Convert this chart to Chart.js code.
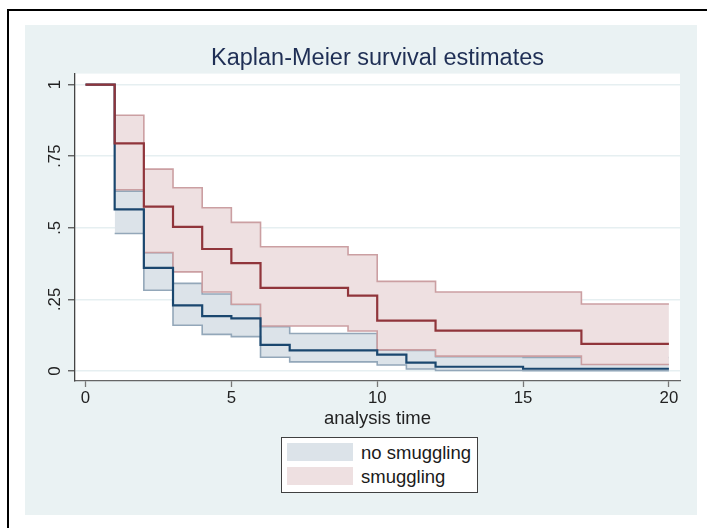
<!DOCTYPE html>
<html>
<head>
<meta charset="utf-8">
<script src="https://cdn.jsdelivr.net/npm/chart.js@4"></script>
<style>
html,body{margin:0;padding:0;background:#fff;width:707px;height:528px;overflow:hidden;font-family:"Liberation Sans",Arial,sans-serif;}
#frame{position:absolute;left:7px;top:9px;width:720px;height:540px;border-top:2px solid #000;border-left:2px solid #000;}
#panel{position:absolute;left:25px;top:25px;width:672px;height:490px;background:#EAF2F3;}
#c{position:absolute;left:0;top:0;}
#legend{position:absolute;left:281px;top:437px;width:195px;height:54px;border:1px solid #404040;background:#fff;}
.sw{position:absolute;left:5px;width:66px;height:18px;}
.lt{position:absolute;left:79px;font-size:18.5px;line-height:20px;color:#1a1a1a;white-space:nowrap;}
</style>
</head>
<body>
<div id="frame"></div>
<div id="panel"></div>
<canvas id="c" width="707" height="528"></canvas>
<div id="legend">
  <div class="sw" id="sw0" style="top:5px"></div><div class="lt" id="lt0" style="top:5px"></div>
  <div class="sw" id="sw1" style="top:29px"></div><div class="lt" id="lt1" style="top:29px"></div>
</div>
<script>
// ---- data ----
const smugTimes   = [0, 1, 2, 3, 4, 5, 6, 9, 10, 12, 17, 20];
const smugSurv    = [1, 0.795, 0.574, 0.503, 0.426, 0.377, 0.290, 0.263, 0.176, 0.141, 0.095, 0.095];
const smugCITimes = [1, 2, 3, 4, 5, 6, 9, 10, 12, 17, 20];
const smugUpper   = [0.893, 0.705, 0.640, 0.570, 0.519, 0.434, 0.406, 0.313, 0.276, 0.234, 0.234];
const smugLower   = [0.633, 0.414, 0.346, 0.276, 0.233, 0.157, 0.140, 0.074, 0.052, 0.023, 0.023];

const noSmugTimes   = [0, 1, 2, 3, 4, 5, 6, 7, 10, 11, 12, 15, 20];
const noSmugSurv    = [1, 0.5645, 0.360, 0.229, 0.192, 0.184, 0.091, 0.072, 0.057, 0.029, 0.015, 0.008, 0.008];
const noSmugCITimes = [1, 2, 3, 4, 5, 6, 7, 10, 11, 12, 15, 20];
const noSmugUpper   = [0.628, 0.413, 0.306, 0.269, 0.232, 0.155, 0.131, 0.073, 0.072, 0.050, 0.047, 0.047];
const noSmugLower   = [0.480, 0.282, 0.160, 0.128, 0.120, 0.048, 0.032, 0.021, 0.007, 0.002, 0.001, 0.001];

const xTicks      = [0, 5, 10, 15, 20];
const yTicks      = [0, 0.25, 0.5, 0.75, 1];
const yTickLabels = ['0', '.25', '.5', '.75', '1'];
const seriesNames = ['no smuggling', 'smuggling'];
const titleText   = 'Kaplan-Meier survival estimates';
const xTitleText  = 'analysis time';

// ---- styles ----
const FONT = '"Liberation Sans", Arial, sans-serif';
const BLUE_LINE = '#1A476F', RED_LINE = '#90353B';
const BLUE_FILL = '#DCE3E9', RED_FILL = '#EEE0E1';
const BLUE_EDGE = '#93A7B9', RED_EDGE = '#CB9FA2';

const pts = (xs, ys) => xs.map((x, i) => ({x: x, y: ys[i]}));

const lineDs = (label, xs, ys, color, width, extra) => Object.assign({
  label: label, data: pts(xs, ys), borderColor: color, borderWidth: width,
  backgroundColor: color, pointRadius: 0, stepped: 'before', fill: false, tension: 0
}, extra || {});

const datasets = [
  lineDs(seriesNames[1], smugTimes, smugSurv, RED_LINE, 2.2),
  lineDs(seriesNames[0], noSmugTimes, noSmugSurv, BLUE_LINE, 2.2),
  lineDs(seriesNames[1] + ' upper', smugCITimes, smugUpper, RED_EDGE, 1.6),
  lineDs(seriesNames[1] + ' lower', smugCITimes, smugLower, RED_EDGE, 1.6, {fill: '-1', backgroundColor: RED_FILL}),
  lineDs(seriesNames[0] + ' upper', noSmugCITimes, noSmugUpper, BLUE_EDGE, 1.6),
  lineDs(seriesNames[0] + ' lower', noSmugCITimes, noSmugLower, BLUE_EDGE, 1.6, {fill: '-1', backgroundColor: BLUE_FILL})
];

const plotBg = {
  id: 'plotBg',
  beforeDraw(chart) {
    const a = chart.chartArea, c = chart.ctx;
    c.save(); c.fillStyle = '#ffffff';
    c.fillRect(a.left, a.top, a.right - a.left, a.bottom - a.top);
    c.restore();
  }
};

new Chart(document.getElementById('c').getContext('2d'), {
  type: 'line',
  data: {datasets: datasets},
  options: {
    responsive: false, animation: false, devicePixelRatio: 1,
    layout: {padding: {left: 0, right: 27, top: 0, bottom: 87}},
    plugins: {
      legend: {display: false},
      tooltip: {enabled: false},
      filler: {propagate: false},
      title: {display: true, fullSize: false, text: titleText, color: '#1F2F55',
        font: {family: FONT, size: 23.5, weight: 'normal'},
        padding: {top: 44.5, bottom: 0.9}}
    },
    scales: {
      x: {
        type: 'linear', min: -0.36, max: 20.38,
        afterBuildTicks: s => { s.ticks = xTicks.map(v => ({value: v})); },
        afterFit: s => { s.height = 60; },
        grid: {drawOnChartArea: false, drawTicks: true, tickLength: 6, tickColor: '#777', tickWidth: 1.3},
        border: {display: true, color: '#666', width: 1.3},
        ticks: {color: '#222', font: {family: FONT, size: 16.8}, padding: 1, maxRotation: 0,
          callback: v => String(v)},
        title: {display: true, text: xTitleText, color: '#222',
          font: {family: FONT, size: 18.5}, padding: {top: 0, bottom: 10.6}}
      },
      y: {
        type: 'linear', min: -0.0348, max: 1.0383,
        afterBuildTicks: s => { s.ticks = yTicks.map(v => ({value: v})); },
        afterFit: s => { s.width = 75; },
        grid: {color: '#E6EFF1', lineWidth: 1.5, drawTicks: true, tickLength: 7, tickColor: '#555', tickWidth: 1.3},
        border: {display: true, color: '#444', width: 1.3},
        ticks: {minRotation: 90, maxRotation: 90, crossAlign: 'center', padding: 1, color: '#222',
          font: {family: FONT, size: 16.8},
          callback: (v, i) => yTickLabels[i]}
      }
    }
  },
  plugins: [plotBg]
});

// legend (HTML, real text)
document.getElementById('sw0').style.background = BLUE_FILL;
document.getElementById('sw1').style.background = RED_FILL;
document.getElementById('lt0').textContent = seriesNames[0];
document.getElementById('lt1').textContent = seriesNames[1];
</script>
</body>
</html>
